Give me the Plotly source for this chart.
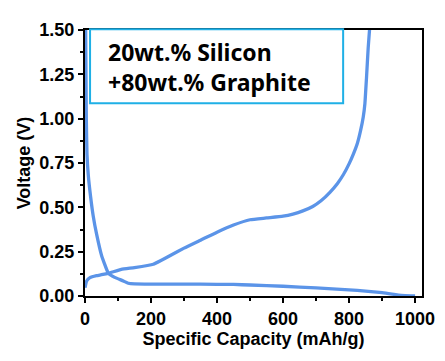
import plotly.graph_objects as go

# Discharge (lithiation) curve
discharge_cap = [2, 3, 4, 6, 10, 17, 25, 35, 50, 71, 90, 116, 131, 150, 200, 300, 400, 450, 500, 600, 700, 800, 850, 900, 930, 950, 970, 1000]
discharge_v = [1.50, 1.25, 1.00, 0.80, 0.68, 0.56, 0.45, 0.35, 0.23, 0.128, 0.105, 0.085, 0.072, 0.068, 0.067, 0.067, 0.066, 0.065, 0.062, 0.055, 0.046, 0.035, 0.028, 0.019, 0.011, 0.005, 0.002, 0.0]

# Charge (delithiation) curve
charge_cap = [0, 5, 15, 35, 50, 71, 110, 150, 207, 230, 250, 300, 350, 400, 450, 500, 550, 600, 630, 660, 690, 715, 742, 765, 783, 800, 813, 825, 835, 843, 848, 853, 858, 862]
charge_v = [0.047, 0.085, 0.104, 0.115, 0.12, 0.128, 0.15, 0.16, 0.179, 0.20, 0.22, 0.27, 0.315, 0.36, 0.40, 0.43, 0.44, 0.45, 0.462, 0.48, 0.505, 0.537, 0.585, 0.635, 0.685, 0.745, 0.80, 0.86, 0.934, 1.01, 1.085, 1.235, 1.40, 1.50]

x_ticks = [0, 200, 400, 600, 800, 1000]
y_ticks = [0.0, 0.25, 0.5, 0.75, 1.0, 1.25, 1.5]
label_lines = ["20wt.% Silicon", "+80wt.% Graphite"]

line_color = "#5b94e8"

fig = go.Figure()
for xs, ys in ((discharge_cap, discharge_v), (charge_cap, charge_v)):
    fig.add_trace(go.Scatter(x=xs, y=ys, mode="lines",
                             line=dict(color=line_color, width=3.3, shape="spline", smoothing=0.4),
                             showlegend=False, cliponaxis=True))

tick_font = dict(family="Liberation Sans", size=18, color="black")
title_font = dict(family="Liberation Sans", size=18, color="black")

fig.update_xaxes(range=[0, 1021], tickvals=x_ticks, ticktext=[f"<b>{v}</b>" for v in x_ticks],
                 ticks="outside", ticklen=5, tickwidth=2, tickcolor="black",
                 minor=dict(dtick=100, ticks="outside", ticklen=3, tickwidth=1.5, tickcolor="black"),
                 showline=True, linecolor="black", linewidth=2, mirror=True,
                 showgrid=False, zeroline=False, tickfont=tick_font, automargin=False,
                 title=dict(text="<b>Specific Capacity (mAh/g)</b>", font=title_font, standoff=2))
fig.update_yaxes(range=[0, 1.5], tickvals=y_ticks, ticktext=[f"<b>{v:.2f}</b>" for v in y_ticks],
                 ticks="outside", ticklen=5, tickwidth=2, tickcolor="black",
                 minor=dict(dtick=0.125, ticks="outside", ticklen=3, tickwidth=1.5, tickcolor="black"),
                 showline=True, linecolor="black", linewidth=2, mirror=True,
                 showgrid=False, zeroline=False, tickfont=tick_font, automargin=False,
                 title=dict(text="<b>Voltage (V)</b>", font=title_font, standoff=4))

fig.update_layout(
    width=445, height=361,
    margin=dict(l=85, r=23, t=30, b=65),
    paper_bgcolor="white", plot_bgcolor="white",
    font=dict(family="Liberation Sans", color="black"),
)

fig.add_shape(type="rect", xref="paper", yref="paper", x0=0.015, x1=0.766, y0=0.725, y1=1.003,
              line=dict(color="#1fb0e6", width=2), fillcolor="white", layer="above")
fig.add_annotation(xref="paper", yref="paper", x=0.062, y=0.985, xanchor="left", yanchor="top",
                   text="<b>" + "<br>".join(label_lines) + "</b>", showarrow=False, align="left",
                   font=dict(family="Noto Sans", size=23, color="black"))

fig.write_html("out.html", config={"displayModeBar": False},
               post_script="document.body.style.margin='0';document.body.style.overflow='hidden';")
